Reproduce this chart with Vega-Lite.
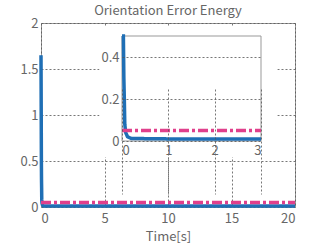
{
  "$schema": "https://vega.github.io/schema/vega-lite/v6.json",
  "width": 254,
  "height": 184,
  "autosize": {"type": "none"},
  "padding": {"left": 41, "top": 23, "right": 32, "bottom": 39},
  "title": {"text": "Orientation Error Energy", "fontSize": 13, "fontWeight": "normal", "color": "#666", "font": "Noto Sans CJK JP", "offset": -1},
  "config": {
    "view": {"stroke": "#999", "strokeWidth": 1},
    "axis": {"domain": false, "ticks": false, "labelFont": "Noto Sans CJK JP", "labelFontSize": 13, "labelColor": "#666", "titleFont": "Noto Sans CJK JP", "titleFontSize": 13, "titleColor": "#666", "titleFontWeight": "normal", "gridColor": "#555", "gridDash": [2, 2], "gridOpacity": 0.8, "labelPadding": 3, "format": "~g"}
  },
  "datasets": {
    "curves": [
      {"t": 0, "v": 1.65, "series": "E"},
      {"t": 0.01, "v": 1.3, "series": "E"},
      {"t": 0.02, "v": 0.9, "series": "E"},
      {"t": 0.03, "v": 0.5, "series": "E"},
      {"t": 0.04, "v": 0.3, "series": "E"},
      {"t": 0.05, "v": 0.2, "series": "E"},
      {"t": 0.06, "v": 0.08, "series": "E"},
      {"t": 0.08, "v": 0.04, "series": "E"},
      {"t": 0.12, "v": 0.02, "series": "E"},
      {"t": 0.2, "v": 0.012, "series": "E"},
      {"t": 1, "v": 0.01, "series": "E"},
      {"t": 5, "v": 0.01, "series": "E"},
      {"t": 20, "v": 0.01, "series": "E"},
      {"t": 0, "v": 0.05, "series": "B"},
      {"t": 20, "v": 0.05, "series": "B"}
    ],
    "box": [{"x0": 0, "x1": 3, "y0": 0, "y1": 0.5}],
    "insetbg": [{"x0": 4.6, "x1": 18.6, "y0": 0.54, "y1": 1.965}]
  },
  "resolve": {"scale": {"x": "independent", "y": "independent"}, "axis": {"x": "independent", "y": "independent"}},
  "layer": [
    {
      "layer": [
        {
          "data": {"name": "insetbg"},
          "mark": {"type": "rect", "fill": "white", "strokeWidth": 0},
          "encoding": {
            "x": {"field": "x0", "type": "quantitative"},
            "x2": {"field": "x1"},
            "y": {"field": "y0", "type": "quantitative"},
            "y2": {"field": "y1"}
          }
        },
        {
          "data": {"name": "curves"},
          "mark": {"type": "line", "strokeWidth": 3.5},
          "encoding": {
            "x": {"field": "t", "type": "quantitative"},
            "y": {"field": "v", "type": "quantitative"},
            "color": {"field": "series", "type": "nominal", "scale": {"domain": ["E", "B"], "range": ["#1f6fb5", "#e0408c"]}, "legend": null},
            "strokeDash": {"field": "series", "type": "nominal", "scale": {"domain": ["E", "B"], "range": [[1, 0], [10, 3, 3, 3]]}, "legend": null}
          }
        }
      ],
      "encoding": {
        "x": {"type": "quantitative", "scale": {"domain": [0, 20], "nice": false}, "axis": {"values": [0, 5, 10, 15, 20], "title": "Time[s]", "grid": true, "labelPadding": 5, "titlePadding": 5}},
        "y": {"type": "quantitative", "scale": {"domain": [0, 2], "nice": false}, "axis": {"values": [0, 0.5, 1, 1.5, 2], "title": null, "grid": true}}
      }
    },
    {
      "layer": [
        {
          "data": {"name": "box"},
          "mark": {"type": "rect", "fill": "white", "stroke": "#999", "strokeWidth": 1},
          "encoding": {
            "x": {"field": "x0", "type": "quantitative"},
            "x2": {"field": "x1"},
            "y": {"field": "y0", "type": "quantitative"},
            "y2": {"field": "y1"}
          }
        },
        {
          "data": {"name": "curves"},
          "mark": {"type": "line", "strokeWidth": 3.5},
          "encoding": {
            "x": {"field": "t", "type": "quantitative"},
            "y": {"field": "v", "type": "quantitative"},
            "color": {"field": "series", "type": "nominal", "scale": {"domain": ["E", "B"], "range": ["#1f6fb5", "#e0408c"]}, "legend": null},
            "strokeDash": {"field": "series", "type": "nominal", "scale": {"domain": ["E", "B"], "range": [[1, 0], [10, 3, 3, 3]]}, "legend": null}
          }
        }
      ],
      "encoding": {
        "x": {"type": "quantitative", "scale": {"domain": [0, 3], "nice": false, "clamp": true, "range": [81, 220]}, "axis": {"orient": "bottom", "offset": -66, "values": [0, 1, 2, 3], "title": null, "grid": true, "zindex": 1}},
        "y": {"type": "quantitative", "scale": {"domain": [0, 0.5], "nice": false, "clamp": true, "range": [118, 13]}, "axis": {"orient": "left", "offset": -81, "values": [0, 0.2, 0.4], "title": null, "grid": true, "zindex": 1}}
      }
    }
  ]
}
